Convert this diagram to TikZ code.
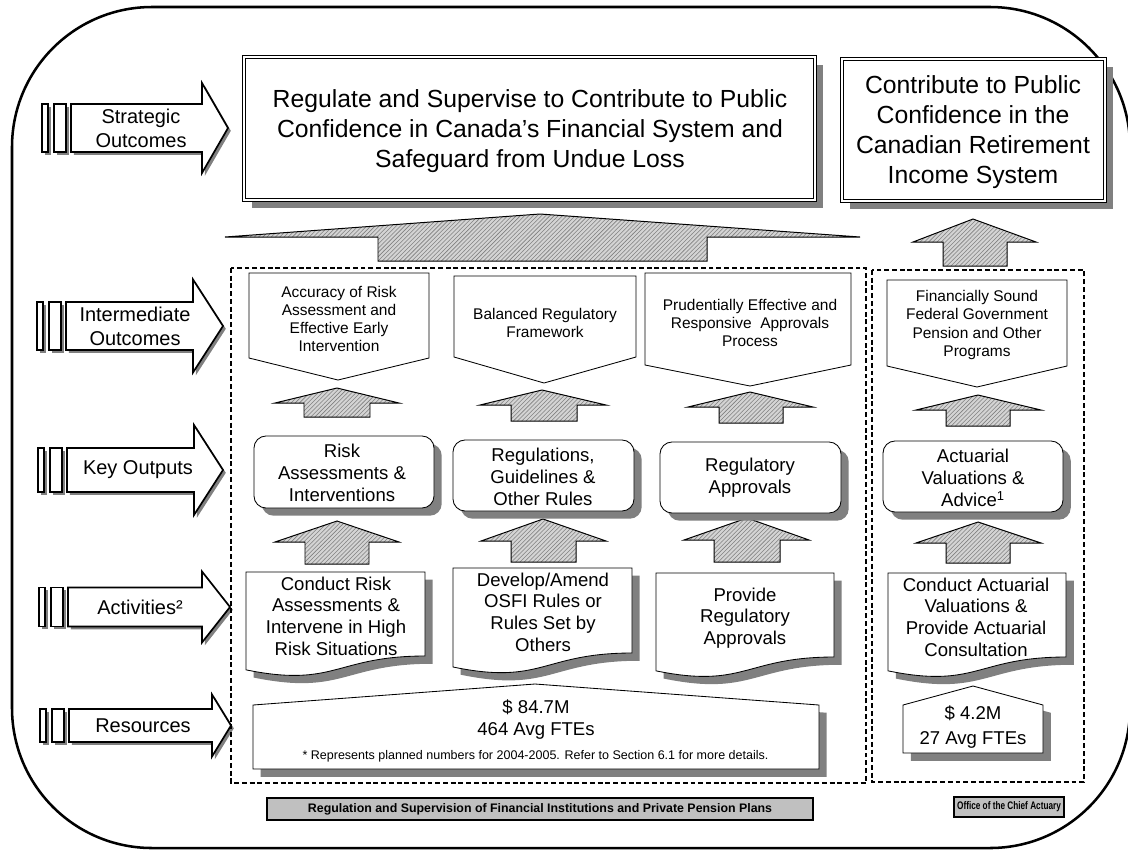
\documentclass[tikz,border=0pt]{standalone}
\usepackage{fontspec}
\setmainfont{Liberation Sans}
\usetikzlibrary{shadows,patterns}
\definecolor{ink}{HTML}{000000}
\definecolor{shadowc}{HTML}{808080}
\definecolor{tagc}{HTML}{C0C0C0}
\definecolor{hatchc}{HTML}{D4D4D4}
\newcommand\ttlfont{\fontsize{17.6}{21.3}\selectfont}
\newcommand\rowfont{\fontsize{14.2}{17}\selectfont}
\newcommand\iofont{\fontsize{11}{13}\selectfont}
\newcommand\boxfont{\fontsize{13.2}{15.4}\selectfont}
\newcommand\notefont{\fontsize{8.9}{10}\selectfont}
\newcommand\tagfont{\fontsize{8.8}{10}\selectfont\bfseries}
\newcommand\smalltagfont{\fontsize{7.8}{9}\selectfont\bfseries}
\tikzset{
  outerframe/.style={draw=ink,line width=1.8pt,rounded corners=3.5cm},
  dropsh/.style={drop shadow={shadow xshift=5.5pt,shadow yshift=-5.5pt,opacity=1,fill=shadowc}},
  ldropsh/.style={drop shadow={shadow xshift=2pt,shadow yshift=-2pt,opacity=1,fill=shadowc}},
  goalbox/.style={draw=ink,line width=0.6pt,double,double distance=1.6pt,fill=white,dropsh},
  rowarrow/.style={draw=ink,line width=1.2pt,fill=white,ldropsh},
  hatch/.style={preaction={fill=hatchc},pattern=north east lines,pattern color=shadowc,draw=ink,line width=0.7pt},
  iobox/.style={draw=ink,line width=0.6pt,fill=white},
  outbox/.style={draw=ink,line width=0.6pt,fill=white,rounded corners=0.3cm,dropsh},
  actbox/.style={draw=ink,line width=0.6pt,fill=white,dropsh},
  resbox/.style={draw=ink,line width=0.6pt,fill=white,dropsh},
  zone/.style={draw=ink,line width=0.9pt,dash pattern=on 3.5pt off 2pt},
  tagbox/.style={draw=ink,line width=0.9pt,fill=tagc,drop shadow={shadow xshift=1pt,shadow yshift=-1pt,opacity=1,fill=ink}},
  txt/.style={inner sep=0pt,align=center},
}

\begin{document}
\begin{tikzpicture}[x=0.025cm,y=-0.025cm]
  \useasboundingbox (0,0) rectangle (1128,850);
  \draw[outerframe] (12,7) rectangle (1130,848);
  % ---------- row labels ----------
  \foreach \yc/\bh/\hh/\bl/\hx/\tip/\tx/\lab [count=\i] in {
      128/24/45/71/202/228/141/{Strategic\\Outcomes},
      326/24/46.5/66/193/223/135/{Intermediate\\Outcomes},
      470/22/45/67/194/223/138/{Key Outputs},
      607/19.5/35.5/68/202/230/140/{Activities²},
      725.5/16.5/31/69/212/231/143/{Resources}}{
    \draw[rowarrow] (\bl-29,\yc-\bh) rectangle (\bl-23,\yc+\bh);
    \draw[rowarrow] (\bl-17,\yc-\bh) rectangle (\bl-5,\yc+\bh);
    \draw[rowarrow] (\bl,\yc-\bh) -- (\hx,\yc-\bh) -- (\hx,\yc-\hh) -- (\tip,\yc)
      -- (\hx,\yc+\hh) -- (\hx,\yc+\bh) -- (\bl,\yc+\bh) -- cycle;
    \node[txt,font=\rowfont] (row\i) at (\tx,\yc) {\lab};
  }
  % ---------- strategic outcomes ----------
  \draw[goalbox] (244,57) rectangle (815,200);
  \node[txt,font=\ttlfont] (so1) at (530,131)
    {Regulate and Supervise to Contribute to Public\\Confidence in Canada’s Financial System and\\Safeguard from Undue Loss};
  \draw[goalbox] (842,59) rectangle (1105,201);
  \node[txt,font=\ttlfont] (so2) at (973,132)
    {Contribute to Public\\Confidence in the\\Canadian Retirement\\Income System};
  % ---------- program zones ----------
  \draw[zone] (231,268) rectangle (866,783);
  \draw[zone] (872,270) rectangle (1084,782);
  % ---------- hatched up arrows ----------
  \foreach \ax/\ay/\wl/\wr/\wy/\sl/\sr/\sb in {
      540/214/225/860/237/378/707/261,
      973/219/913/1036/242/943/1007/266,
      337/388/275/399/403/304/370/417,
      542/390/480/606/405/511/577/421,
      750/392/688/813/407/719/783/423,
      978/395/916/1041/410/946/1010/426,
      337/521/275/399/542/305/369/564,
      543/519/481/606/541/511/576/562,
      747/518/684/809/540/714/780/562,
      978/522/916/1041/543/946/1010/563}
    \draw[hatch] (\ax,\ay) -- (\wr,\wy) -- (\sr,\wy) -- (\sr,\sb) -- (\sl,\sb) -- (\sl,\wy) -- (\wl,\wy) -- cycle;
  % ---------- intermediate outcomes ----------
  \foreach \l/\r/\t/\s/\px/\py in {249/429/273/358/338/380, 454/636/276/357/544/383,
      645/851/273/365/750/386, 887/1067/280/366/977/387}
    \draw[iobox] (\l,\t) -- (\r,\t) -- (\r,\s) -- (\px,\py) -- (\l,\s) -- cycle;
  \node[txt,font=\iofont] (io1) at (339,319) {Accuracy of Risk\\Assessment and\\Effective Early\\Intervention};
  \node[txt,font=\iofont] (io2) at (545,323) {Balanced Regulatory\\Framework};
  \node[txt,font=\iofont] (io3) at (750,323) {Prudentially Effective and\\Responsive\ \ Approvals\\Process};
  \node[txt,font=\iofont] (io4) at (977,325) {Financially Sound\\Federal Government\\Pension and Other\\Programs};
  % ---------- key outputs ----------
  \draw[outbox] (254,436) rectangle (434,508);
  \draw[outbox] (453,440) rectangle (634,511);
  \draw[outbox] (660,442) rectangle (841,513);
  \draw[outbox] (883,441) rectangle (1063,512);
  \node[txt,font=\boxfont] (ko1) at (342,473) {Risk\\Assessments \&\\Interventions};
  \node[txt,font=\boxfont] (ko2) at (543,477) {Regulations,\\Guidelines \&\\Other Rules};
  \node[txt,font=\boxfont] (ko3) at (750,478) {Regulatory\\Approvals};
  \node[txt,font=\boxfont] (ko4) at (973,478) {Actuarial\\Valuations \&\\Advice\textsuperscript{1}};
  % ---------- activities ----------
  \foreach \l/\r/\t/\b in {246/425/572/656, 453/632/568/653, 656/834/573/657, 888/1066/573/657}{
    \pgfmathsetmacro{\hh}{(\b-\t)/0.802}
    \pgfmathsetmacro{\cy}{\t+1.1075*\hh}
    \pgfmathsetmacro{\ly}{\t+0.934*\hh}
    \pgfmathsetmacro{\mx}{(\l+\r)/2}
    \draw[actbox] (\l,\t) -- (\r,\t) -- (\r,\b) .. controls (\mx,\b) and (\mx,\cy) .. (\l,\ly) -- cycle;
  }
  \node[txt,font=\boxfont] (ac1) at (336,616) {Conduct Risk\\Assessments \&\\Intervene in High\\Risk Situations};
  \node[txt,font=\boxfont] (ac2) at (543,612) {Develop/Amend\\OSFI Rules or\\Rules Set by\\Others};
  \node[txt,font=\boxfont] (ac3) at (745,618) {Provide\\Regulatory\\Approvals};
  \node[txt,font=\boxfont] (ac4) at (976,617) {Conduct Actuarial\\Valuations \&\\Provide Actuarial\\Consultation};
  % ---------- resources ----------
  \draw[resbox] (253,705) -- (535,684) -- (819,705) -- (819,769) -- (253,769) -- cycle;
  \draw[resbox] (903,705) -- (973,686) -- (1043,705) -- (1043,753) -- (903,753) -- cycle;
  \node[txt,font=\boxfont] (rs1) at (536,719.5) {\$ 84.7M\\464 Avg FTEs};
  \node[txt,font=\notefont] (rs1note) at (535.5,756.5)
    {* Represents planned numbers for 2004-2005. Refer to Section 6.1 for more details.};
  \node[txt,font=\boxfont] (rs2a) at (973,713) {\$ 4.2M};
  \node[txt,font=\boxfont] (rs2b) at (973,740) {27 Avg FTEs};
  % ---------- program tags ----------
  \draw[tagbox] (267,798) rectangle (813,820);
  \node[txt,font=\tagfont] (tag1) at (540,809)
    {Regulation and Supervision of Financial Institutions and Private Pension Plans};
  \draw[tagbox] (954,797) rectangle (1064,817);
  \node[txt,font=\smalltagfont] (tag2) at (1009,807) {\scalebox{0.75}[1]{Office of the Chief Actuary}};
\end{tikzpicture}
\end{document}
